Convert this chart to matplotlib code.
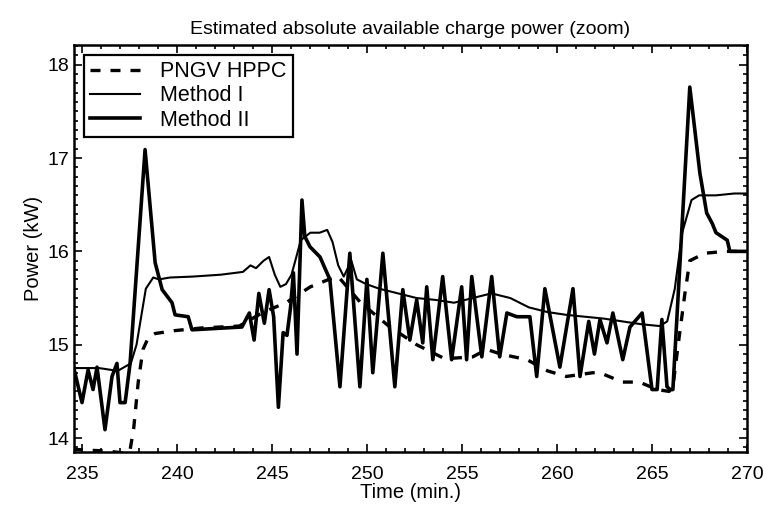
import matplotlib
matplotlib.use("Agg")
import matplotlib.pyplot as plt
from matplotlib.ticker import MultipleLocator

plt.rcParams['font.family'] = ['Liberation Sans', 'DejaVu Sans']

title = "Estimated absolute available charge power (zoom)"
xlabel = "Time (min.)"
ylabel = "Power (kW)"
series_names = ["PNGV HPPC", "Method I", "Method II"]
xticks = [235, 240, 245, 250, 255, 260, 265, 270]
yticks = [14, 15, 16, 17, 18]

# PNGV HPPC
t_hppc = [234.5, 235.39, 236.38, 237.17, 237.51, 237.71, 237.95, 238.2, 238.49, 238.84,
          239.82, 241.3, 243.27, 244.55, 245.73, 247.01, 247.99, 248.48, 249.66, 251.14,
          252.61, 254.09, 255.56, 256.3, 257.04, 258.42, 259.5, 260.49, 261.87, 262.26,
          263.44, 264.33, 265.27, 265.9, 266.1, 266.39, 266.74, 266.99, 267.78, 268.86, 270.0]
p_hppc = [13.88, 13.87, 13.86, 13.84, 13.86, 14.1, 14.6, 14.95, 15.08, 15.12,
          15.15, 15.18, 15.2, 15.35, 15.45, 15.62, 15.7, 15.73, 15.45, 15.2,
          15.0, 14.85, 14.87, 14.95, 14.9, 14.84, 14.72, 14.66, 14.7, 14.7,
          14.6, 14.6, 14.52, 14.5, 14.55, 15.02, 15.56, 15.9, 15.98, 16.0, 16.0]

# Method I
t_m1 = [234.5, 235.89, 236.87, 237.56, 237.86, 238.35, 238.74, 239.04, 239.62, 240.81,
        242.28, 243.46, 243.86, 244.15, 244.55, 244.84, 245.14, 245.43, 245.73, 246.02,
        246.22, 246.51, 247.01, 247.5, 247.9, 248.18, 248.48, 248.77, 249.17, 249.46,
        249.95, 250.64, 251.63, 252.61, 253.6, 254.58, 255.56, 256.55, 257.54, 258.52,
        259.5, 260.49, 261.47, 262.46, 263.44, 264.43, 265.41, 265.8, 266.2, 266.59,
        267.08, 267.48, 268.36, 269.34, 270.0]
p_m1 = [14.75, 14.75, 14.72, 14.8, 15.0, 15.6, 15.72, 15.7, 15.72, 15.73,
        15.75, 15.78, 15.85, 15.82, 15.9, 15.94, 15.75, 15.62, 15.65, 15.75,
        15.9, 16.12, 16.2, 16.2, 16.23, 16.1, 15.85, 15.73, 15.9, 15.7,
        15.65, 15.6, 15.55, 15.5, 15.48, 15.45, 15.5, 15.55, 15.5, 15.4,
        15.35, 15.32, 15.3, 15.28, 15.25, 15.22, 15.2, 15.25, 15.6, 16.2,
        16.55, 16.6, 16.6, 16.62, 16.62]

# Method II
t_m2 = [234.5, 234.99, 235.31, 235.57, 235.78, 236.2, 236.57, 236.83, 236.99, 237.26,
        237.52, 238.31, 238.84, 239.21, 239.73, 239.89, 240.58, 240.78, 243.41, 243.8,
        244.05, 244.3, 244.59, 244.84, 245.08, 245.33, 245.58, 245.78, 245.97, 246.12,
        246.31, 246.57, 246.72, 246.99, 247.52, 248.04, 248.57, 249.09, 249.62, 249.99,
        250.3, 250.83, 251.46, 251.88, 252.25, 252.61, 252.93, 253.14, 253.46, 253.98,
        254.45, 254.98, 255.24, 255.51, 256.04, 256.56, 256.98, 257.36, 257.88, 258.57,
        258.93, 259.36, 260.15, 260.84, 261.21, 261.67, 261.97, 262.26, 262.63, 262.94,
        263.46, 263.84, 264.48, 265.0, 265.27, 265.52, 265.79, 265.95, 266.1, 266.99,
        267.52, 267.88, 268.17, 268.37, 268.96, 269.1, 270.0]
p_m2 = [14.8, 14.38, 14.73, 14.52, 14.76, 14.09, 14.66, 14.8, 14.38, 14.38,
        14.8, 17.09, 15.88, 15.59, 15.45, 15.32, 15.3, 15.16, 15.19, 15.34,
        15.05, 15.55, 15.23, 15.59, 15.3, 14.33, 15.13, 15.1, 15.4, 15.77,
        14.9, 16.55, 16.16, 16.05, 15.94, 15.7, 14.55, 15.98, 14.55, 15.7,
        14.7, 15.98, 14.55, 15.59, 15.05, 15.48, 15.02, 15.62, 14.84, 15.73,
        14.84, 15.62, 14.84, 15.73, 14.87, 15.73, 14.87, 15.34, 15.3, 15.3,
        14.66, 15.6, 14.76, 15.6, 14.66, 15.25, 14.9, 15.27, 15.02, 15.34,
        14.84, 15.19, 15.34, 14.52, 14.52, 15.27, 14.55, 14.52, 14.52, 17.76,
        16.84, 16.41, 16.3, 16.2, 16.12, 16.0, 16.0]

fig = plt.figure(figsize=(7.64, 5.12), dpi=100)
ax = fig.add_axes([0.0969, 0.117, 0.8808, 0.795])

ax.plot(t_hppc, p_hppc, color='black', lw=2.4, linestyle=(0, (3, 3)), label=series_names[0])
ax.plot(t_m1, p_m1, color='black', lw=1.5, label=series_names[1])
ax.plot(t_m2, p_m2, color='black', lw=2.6, label=series_names[2])

ax.set_xlim(234.57, 270.0)
ax.set_ylim(13.85, 18.21)
ax.set_xticks(xticks)
ax.set_yticks(yticks)
ax.xaxis.set_minor_locator(MultipleLocator(1))
ax.yaxis.set_minor_locator(MultipleLocator(0.1))
ax.tick_params(which='both', direction='in', top=True, right=True, labelsize=14, width=1.2)
ax.tick_params(which='major', length=6)
ax.tick_params(which='minor', length=3)
ax.tick_params(axis='x', which='major', pad=10)
for s in ax.spines.values():
    s.set_linewidth(1.8)

ax.set_title(title, fontsize=14, pad=8)
ax.set_xlabel(xlabel, fontsize=14.5, labelpad=0)
ax.set_ylabel(ylabel, fontsize=14.5, labelpad=3)

leg = ax.legend(loc='upper left', fontsize=15.5, frameon=True, fancybox=False,
                edgecolor='black', framealpha=1, borderaxespad=0.45,
                handlelength=2.3, labelspacing=0.15, borderpad=0.3, handletextpad=0.95)
leg.get_frame().set_linewidth(1.6)

fig.savefig("out.png", dpi=100)
